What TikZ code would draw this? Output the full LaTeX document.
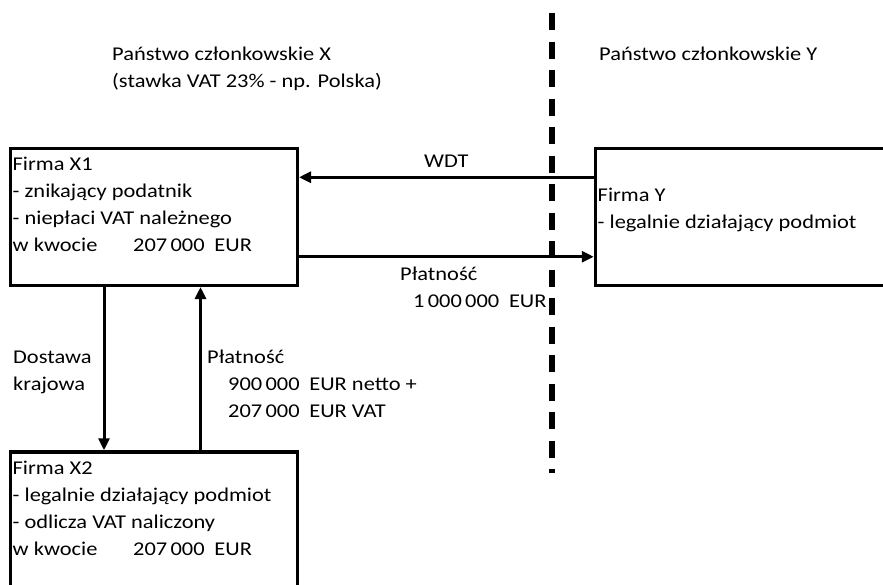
\documentclass[tikz,border=0pt]{standalone}
\usepackage{fontspec}
\setmainfont[FakeStretch=1.15]{Carlito}
\usetikzlibrary{arrows.meta,positioning}

\newcommand{\odst}{\hspace{0.5em}}

\begin{document}
\begin{tikzpicture}[x=1pt,y=-1pt,
    font=\fontsize{19.5}{27}\selectfont,
    firma/.style={draw,line width=3.5pt,inner sep=0pt,anchor=north west},
    opis/.style={align=left,inner sep=0pt,anchor=base west},
    strzalka/.style={line width=3pt,-{Triangle[length=12pt,width=11pt]}}]
  \useasboundingbox (0,0) rectangle (883,584);
  \clip (0,0) rectangle (883,584);

  % granica miedzy panstwami
  \draw[line width=5.5pt,dash pattern=on 17pt off 11.5pt] (552,13) -- (552,473);

  % naglowki (base = ostatnia linia)
  \node[opis] (px) at (112,87) {Państwo członkowskie X\\(stawka VAT 23\% - np. Polska)};
  \node[opis] (py) at (599,60) {Państwo członkowskie Y};

  % firmy
  \node[firma,minimum width=287pt,minimum height=137pt] (x1) at (8.5,146.5) {};
  \node[firma,minimum width=330pt,minimum height=137pt] (y) at (593.75,146.5) {};
  \node[firma,minimum width=287pt,minimum height=160pt] (x2) at (8.5,450.25) {};

  \node[opis] (tx1) at (12.5,251.5) {Firma X1\\- znikający podatnik\\- niepłaci VAT należnego\\\makebox[120.5pt][l]{w kwocie}207\,000\odst EUR};
  \node[opis] (ty) at (597.5,228) {Firma Y\\- legalnie działający podmiot};
  \node[opis] (tx2) at (12.5,555) {Firma X2\\- legalnie działający podmiot\\- odlicza VAT naliczony\\\makebox[120.5pt][l]{w kwocie}207\,000\odst EUR};

  % przeplywy
  \draw[strzalka] ([yshift=39.5pt]y.west) -- ([yshift=39.5pt]x1.east)
    node[midway,above=8pt,inner sep=0pt] (wdt) {WDT};
  \draw[strzalka] ([yshift=-40pt]x1.east) -- ([yshift=-40pt]y.west);
  \node[opis] (lp) at (400,307) {Płatność\\\hspace*{13pt}1\,000\,000\odst EUR};

  \draw[strzalka] ([xshift=-49.75pt]x1.south) -- ([xshift=-49.75pt]x2.north);
  \draw[strzalka] ([xshift=46.75pt]x2.north) -- ([xshift=46.75pt]x1.south);
  \node[opis] (ld) at (13,390) {Dostawa\\krajowa};
  \node[opis] (lp2) at (207,417) {Płatność\\\hspace*{21pt}900\,000\odst EUR netto +\\\hspace*{21pt}207\,000\odst EUR VAT};
\end{tikzpicture}
\end{document}
